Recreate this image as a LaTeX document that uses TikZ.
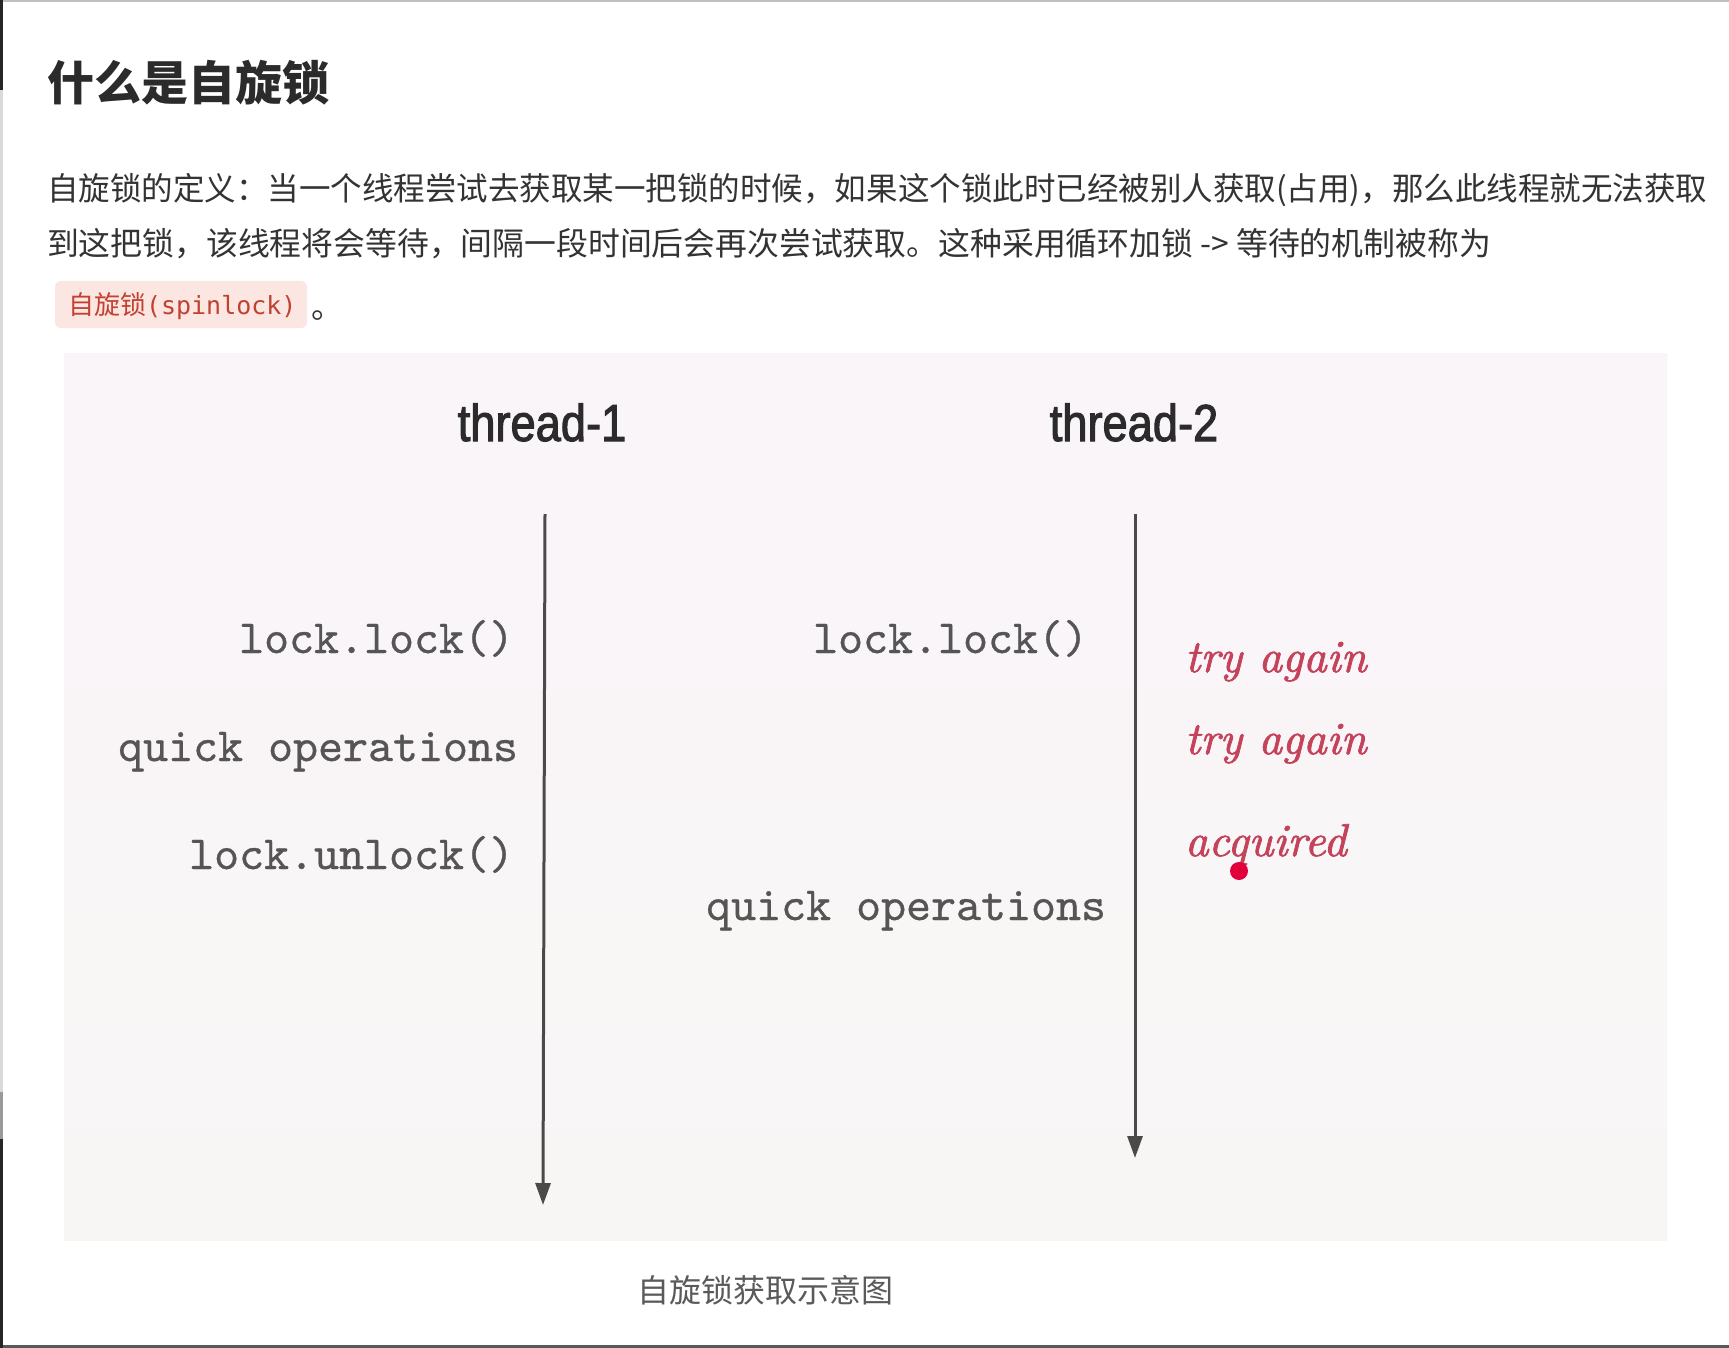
\documentclass[tikz,border=0pt]{standalone}
\usepackage{fontspec}
\usetikzlibrary{arrows.meta}
\newfontfamily\cjk{Noto Sans CJK SC}
\newfontfamily\thfont[FakeStretch=0.87,FakeBold=2]{Liberation Sans}
\newfontfamily\chipmono{DejaVu Sans Mono}
\newfontfamily\handfont{lmroman10-italic}[Extension=.otf, FakeBold=1.6]
\newfontfamily\codefont{lmmono10-regular}[Extension=.otf, FakeBold=0.6]
\definecolor{bodytext}{HTML}{333333}
\definecolor{titletext}{HTML}{2B2B2B}
\definecolor{paneltop}{HTML}{FAF5F9}
\definecolor{panelbot}{HTML}{F8F6F5}
\definecolor{chipbg}{HTML}{FBE6E2}
\definecolor{chiptext}{HTML}{C24131}
\definecolor{monotext}{HTML}{555555}
\definecolor{linecol}{HTML}{4A4A4A}
\definecolor{handred}{HTML}{C4435B}
\definecolor{dotred}{HTML}{E2003C}
\definecolor{captext}{HTML}{5A5A5A}
\tikzset{
  txt/.style={inner sep=0pt, outer sep=0pt},
  bodyline/.style={txt, anchor=base west, text=bodytext, font=\cjk\fontsize{32}{32}\selectfont},
  monolabel/.style={txt, anchor=base east, text=monotext, font=\codefont\fontsize{47.6}{47.6}\selectfont},
  handlabel/.style={txt, anchor=base west, text=handred, font=\handfont\fontsize{46}{46}\selectfont},
  threadlabel/.style={txt, anchor=base, text=titletext, font=\thfont\fontsize{52}{52}\selectfont},
  timeline/.style={draw=linecol, line width=3pt, -{Triangle[length=22pt,width=15pt]}}
}
\begin{document}
\begin{tikzpicture}[x=1pt,y=-1pt]
\useasboundingbox (0,0) rectangle (1729,1348);
\fill[white] (0,0) rectangle (1729,1348);
% page frame lines
\draw[line width=2pt, draw=black!25] (0,1) -- (1729,1);
\draw[line width=3pt, draw=black!65] (0,1346.5) -- (1729,1346.5);
\draw[line width=3pt, draw=black!85] (1.5,0) -- (1.5,90);
\draw[line width=3pt, draw=black!15] (1.5,90) -- (1.5,1092);
\draw[line width=3pt, draw=black!40] (1.5,1092) -- (1.5,1139);
\draw[line width=3pt, draw=black!85] (1.5,1139) -- (1.5,1348);

% heading and paragraph
\node[txt, anchor=base west, text=titletext, font=\cjk\bfseries\fontsize{47}{47}\selectfont] (title) at (47,101) {什么是自旋锁};
\node[bodyline] (line1) at (47,201) {\scalebox{0.985}[1]{自旋锁的定义：当一个线程尝试去获取某一把锁的时候，如果这个锁此时已经被别人获取(占用)，那么此线程就无法获取}};
\node[bodyline] (line2) at (47,256) {\scalebox{0.995}[1]{到这把锁，该线程将会等待，间隔一段时间后会再次尝试获取。这种采用循环加锁 -> 等待的机制被称为}};
\fill[chipbg, rounded corners=6pt] (55,281) rectangle (307,328);
\node[txt, anchor=base west, text=chiptext] (chip) at (68,314) {{\cjk\fontsize{26}{26}\selectfont 自旋锁}{\chipmono\fontsize{25}{25}\selectfont (spinlock)}};
\node[bodyline] (period) at (311,318) {。};

% diagram panel
\shade[top color=paneltop, bottom color=panelbot] (64,353) rectangle (1667,1240);

\node[threadlabel] (t1) at (542,441) {thread-1};
\node[threadlabel] (t2) at (1134,441) {thread-2};

\coordinate (a1top) at (545,514);
\coordinate (a1end) at (543,1205);
\coordinate (a2top) at (1135,514);
\coordinate (a2end) at (1135,1158);
\draw[timeline] (a1top) -- (a1end);
\draw[timeline] (a2top) -- (a2end);

\node[monolabel] (l1) at (514,653) {lock.lock()};
\node[monolabel] (q1) at (518,761) {quick operations};
\node[monolabel] (u1) at (514,869) {lock.unlock()};
\node[monolabel] (l2) at (1088,653) {lock.lock()};
\node[monolabel] (q2) at (1106,920) {quick operations};

\node[handlabel] (ta1) at (1185,672) {try again};
\node[handlabel] (ta2) at (1185,754) {try again};
\node[handlabel] (acq) at (1185,856) {acquired};
\node[circle, fill=dotred, inner sep=0pt, minimum size=18pt] (dot) at (1239,871) {};

\node[txt, anchor=base west, text=captext, font=\cjk\fontsize{32}{32}\selectfont] (cap) at (637,1302) {自旋锁获取示意图};
\end{tikzpicture}
\end{document}
